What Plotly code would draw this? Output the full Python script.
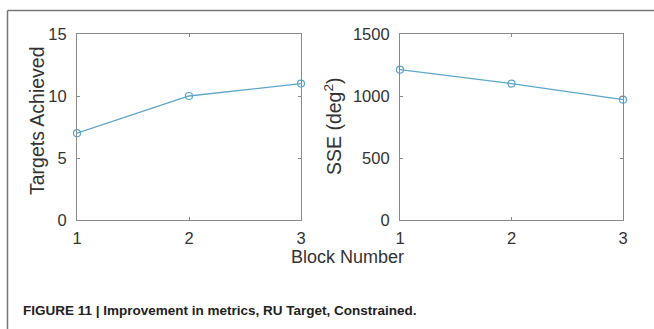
import plotly.graph_objects as go

blocks = [1, 2, 3]
targets = [7, 10, 11]
sse = [1212, 1100, 970]
x_ticks = [1, 2, 3]
left_yticks = [0, 5, 10, 15]
right_yticks = [0, 500, 1000, 1500]

W, H = 654, 329
line_col = "#5ba6c9"
axis_col = "#8a8a8a"
text_col = "#333333"
font_fam = "Liberation Sans, Arial, sans-serif"

def px(x):
    return x / W

def py(y):
    return 1 - y / H

fig = go.Figure()
fig.add_trace(go.Scatter(x=blocks, y=targets, mode="lines+markers", xaxis="x", yaxis="y",
                         line=dict(color=line_col, width=1.3),
                         marker=dict(symbol="circle-open", size=7, color=line_col, line=dict(width=1.2)),
                         showlegend=False, cliponaxis=False))
fig.add_trace(go.Scatter(x=blocks, y=sse, mode="lines+markers", xaxis="x2", yaxis="y2",
                         line=dict(color=line_col, width=1.3),
                         marker=dict(symbol="circle-open", size=7, color=line_col, line=dict(width=1.2)),
                         showlegend=False, cliponaxis=False))

ax_common = dict(showline=True, linecolor=axis_col, linewidth=1.2, mirror="ticks",
                 ticks="inside", ticklen=3, tickcolor=axis_col, showgrid=False, zeroline=False,
                 automargin=False,
                 tickfont=dict(family=font_fam, size=16.5, color=text_col))

y0, y1 = py(220), py(34)
fig.update_layout(
    template="none",
    width=W, height=H, margin=dict(l=0, r=0, t=0, b=0, pad=0),
    paper_bgcolor="white", plot_bgcolor="white",
    xaxis=dict(domain=[px(77), px(301)], range=[1, 3], tickvals=x_ticks, anchor="y",
               ticklabelstandoff=3, **ax_common),
    yaxis=dict(domain=[y0, y1], range=[0, 15], tickvals=left_yticks, anchor="x",
               ticklabelstandoff=6, **ax_common),
    xaxis2=dict(domain=[px(400), px(623)], range=[1, 3], tickvals=x_ticks, anchor="y2",
                ticklabelstandoff=3, **ax_common),
    yaxis2=dict(domain=[y0, y1], range=[0, 1500], tickvals=right_yticks, anchor="x2",
                ticklabelstandoff=6, **ax_common),
)

# axis titles
fig.add_annotation(text="Targets Achieved", xref="paper", yref="paper", x=px(37), y=py(121),
                   textangle=-90, showarrow=False, xanchor="center", yanchor="middle",
                   font=dict(family=font_fam, size=19.5, color=text_col))
fig.add_annotation(text="SSE (deg<sup>2</sup>)", xref="paper", yref="paper", x=px(333), y=py(126),
                   textangle=-90, showarrow=False, xanchor="center", yanchor="middle",
                   font=dict(family=font_fam, size=19.5, color=text_col))
fig.add_annotation(text="Block Number", xref="paper", yref="paper", x=px(347), y=py(257),
                   showarrow=False, xanchor="center", yanchor="middle",
                   font=dict(family=font_fam, size=18, color=text_col))

# caption
fig.add_annotation(text="<b>FIGURE 11 | Improvement in metrics, RU Target, Constrained.</b>",
                   xref="paper", yref="paper", x=px(21), y=py(310), showarrow=False,
                   xanchor="left", yanchor="middle",
                   font=dict(family="Liberation Sans, Arial, sans-serif", size=13.5, color="#222222"))

# frame
fig.add_shape(type="line", xref="paper", yref="paper", x0=px(7.5), x1=1, y0=py(10.5), y1=py(10.5),
              line=dict(color="#777777", width=1.5))
fig.add_shape(type="line", xref="paper", yref="paper", x0=px(7.5), x1=px(7.5), y0=py(10.5), y1=0,
              line=dict(color="#777777", width=1.5))

fig.write_html("out.html")
